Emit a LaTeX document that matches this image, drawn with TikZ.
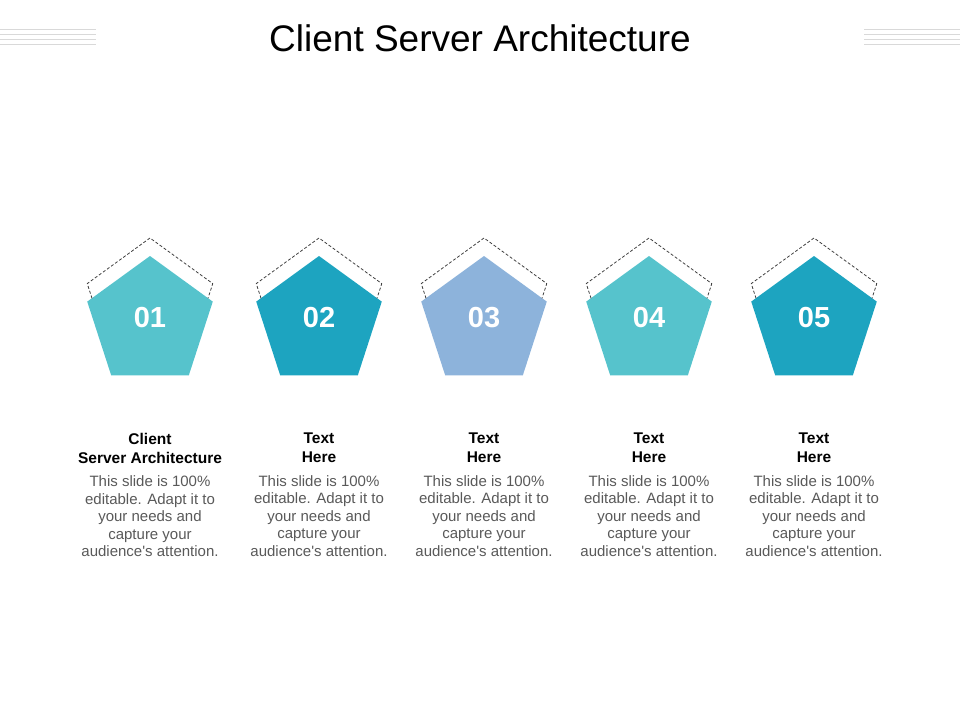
\documentclass[tikz,border=0pt]{standalone}
\usepackage{fontspec}
\setmainfont{Liberation Sans}
\usetikzlibrary{positioning, shapes.geometric, calc}
\definecolor{tealA}{HTML}{56C3CC}
\definecolor{tealB}{HTML}{1DA4C0}
\definecolor{blueC}{HTML}{8DB3DB}
\definecolor{bodygray}{HTML}{595959}
\definecolor{rulegray}{HTML}{D9D9D9}

\begin{document}
\begin{tikzpicture}[x=1pt, y=-1pt, node distance=12pt,
  pent/.style={regular polygon, regular polygon sides=5, minimum size=132pt,
    inner sep=0pt, outer sep=0pt, text=white, text depth=10pt,
    font=\fontsize{29}{34}\selectfont\bfseries},
  head/.style={align=center, inner sep=0pt, font=\fontsize{15.5}{19}\selectfont\bfseries},
  body/.style={align=center, inner sep=0pt, text=bodygray, font=\fontsize{15}{17.5}\selectfont},
  frame/.style={densely dashed, draw=black!75, line width=0.8pt}]
\useasboundingbox (0,0) rectangle (960,720);

\node (title) at (480,38) {\fontsize{37}{40}\selectfont Client Server Architecture};

% side rules
\foreach \y in {29.5,34.5,39.5,44.5} {
  \draw[rulegray, line width=1pt] (0,\y) -- (96,\y);
  \draw[rulegray, line width=1pt] (864,\y) -- (960,\y);
}

% pentagons with dashed caps and texts
\foreach \i/\x/\c/\lbl in {1/150/tealA/{Client\\Server Architecture},
    2/319/tealB/{Text\\Here}, 3/484/blueC/{Text\\Here},
    4/649/tealA/{Text\\Here}, 5/814/tealB/{Text\\Here}} {
  \node[pent, fill=\c] (p\i) at (\x,322) {0\i};
  \draw[frame] ($(p\i.corner 2)!0.2!(p\i.corner 3)+(0,-18)$)
    -- ($(p\i.corner 2)+(0,-18)$) -- ($(p\i.corner 1)+(0,-18)$)
    -- ($(p\i.corner 5)+(0,-18)$) -- ($(p\i.corner 5)!0.2!(p\i.corner 4)+(0,-18)$);
  \node[head, anchor=north] (h\i) at (\x,433) {\lbl};
  \node[body, below=of h\i] (b\i) {This slide is 100\%\\editable. Adapt it to\\your needs and\\capture your\\audience\textquotesingle s attention.};
}
\end{tikzpicture}
\end{document}
